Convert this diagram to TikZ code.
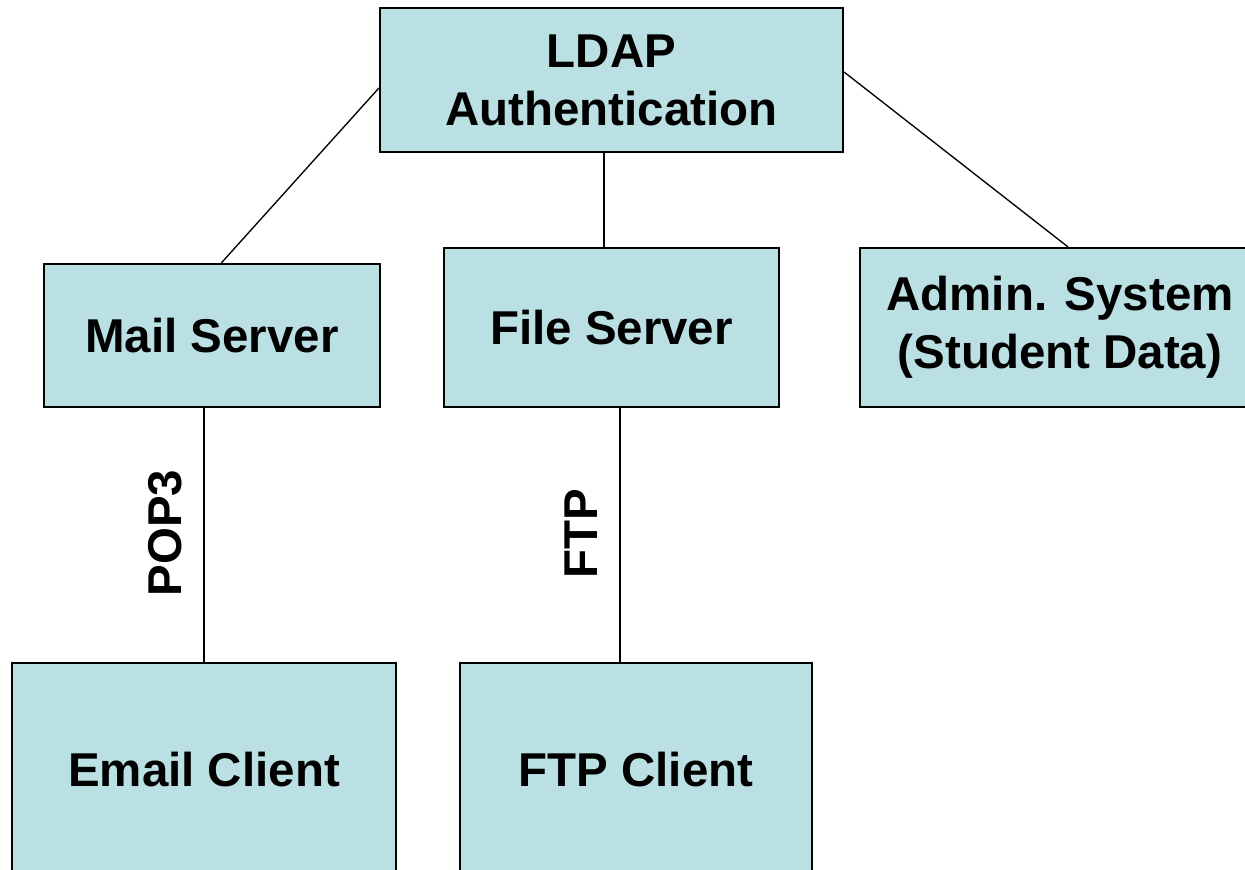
\documentclass[tikz,border=0pt]{standalone}
\usepackage{fontspec}
\setmainfont{Liberation Sans}

\definecolor{boxfill}{RGB}{187,224,227}

\tikzset{every picture/.style={line width=0.75pt}}
\tikzset{
  sysbox/.style={draw=black, line width=1.6pt, fill=boxfill, align=center,
    inner sep=0.75pt, font=\fontsize{35.6}{43.5}\selectfont\bfseries},
  link/.style={draw=black, line width=1pt},
  proto/.style={rotate=90, inner sep=0.75pt, font=\fontsize{35.6}{43}\selectfont\bfseries}
}

\begin{document}
\begin{tikzpicture}[x=0.75pt,y=0.75pt,yscale=-1,xscale=1]
\useasboundingbox (0,0) rectangle (1245,869);

% server boxes
\node [sysbox, minimum width=347.25pt, minimum height=108pt] (ldap) at (611.5,80) {LDAP\\Authentication};
\node [sysbox, minimum width=252pt, minimum height=107.25pt] (mail) at (212,335.5) {Mail Server};
\node [sysbox, minimum width=251.25pt, minimum height=119.25pt] (file) at (611.5,327.5) {File Server};
\node [sysbox, minimum width=300pt, minimum height=119.25pt] (admin) at (1060,327.5) {Admin. System\\(Student Data)};

% client boxes
\node [sysbox, minimum width=288pt, minimum height=160.5pt] (email) at (204,770) {Email Client};
\node [sysbox, minimum width=264pt, minimum height=160.5pt] (ftpc) at (636,770) {FTP Client};

\draw [link] ([yshift=6pt]ldap.west) -- ([xshift=7pt]mail.north);
\draw [link] ([xshift=-5.6pt]ldap.south) -- ([xshift=-5.6pt]ldap.south |- file.north);
\draw [link] ([yshift=-6pt]ldap.east) -- ([xshift=6pt]admin.north);

\draw [link] ([xshift=-6pt]mail.south) -- (email.north);
\draw [link] ([xshift=-12pt]ftpc.north |- file.south) -- ([xshift=-12pt]ftpc.north);

% protocol labels
\node [proto] (pop3) at (165,533) {POP3};
\node [proto] (ftp) at (581,534) {FTP};

\end{tikzpicture}
\end{document}
